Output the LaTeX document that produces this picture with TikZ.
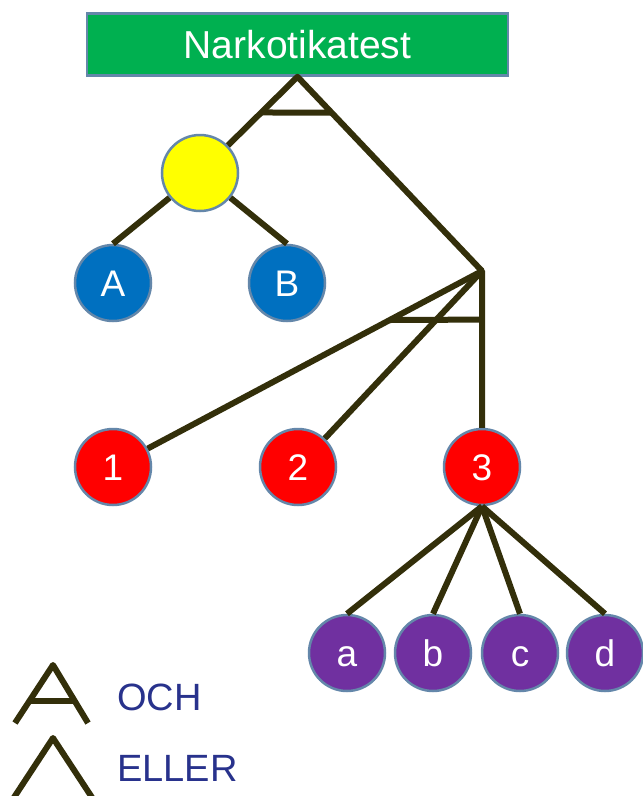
\documentclass[tikz,border=0pt]{standalone}
\usepackage{fontspec}
\setmainfont{Liberation Sans}
\usetikzlibrary{calc}
\definecolor{linec}{RGB}{51,47,10}
\definecolor{edgec}{RGB}{100,135,170}
\definecolor{greenc}{RGB}{0,176,80}
\definecolor{bluec}{RGB}{0,112,192}
\definecolor{redc}{RGB}{255,0,0}
\definecolor{purplec}{RGB}{112,48,160}
\definecolor{yellowc}{RGB}{255,255,0}
\definecolor{legc}{RGB}{40,50,140}
\begin{document}
\begin{tikzpicture}[x=1pt,y=-1pt,
  conn/.style={draw=linec,line width=6pt,line join=round},
  circ/.style={circle,draw=edgec,line width=2.5pt,minimum size=76pt,inner sep=0pt,text=white,font=\fontsize{37}{37}\selectfont,text height=26.5pt,text depth=0pt},
  legtext/.style={anchor=west,text=legc,font=\fontsize{38}{38}\selectfont,inner sep=0pt}]
\useasboundingbox (0,0) rectangle (643,796);
\clip (0,0) rectangle (643,796);
\fill[white] (0,0) rectangle (643,796);
% nodes
\node[draw=edgec,line width=2.5pt,fill=greenc,minimum width=421pt,minimum height=62pt,inner sep=0pt,text=white,font=\fontsize{39}{39}\selectfont] (T) at (297.5,44.5) {Narkotikatest};
\node[circ,fill=yellowc] (Y) at (200,173) {};
\node[circ,fill=bluec] (A) at (113,283) {A};
\node[circ,fill=bluec] (B) at (287,283) {B};
\coordinate (J) at (482,271);
\node[circ,fill=redc] (n1) at (113,467) {1};
\node[circ,fill=redc] (n2) at (298,467) {2};
\node[circ,fill=redc] (n3) at (482,467) {3};
\node[circ,fill=purplec] (a) at (347,653) {a};
\node[circ,fill=purplec] (b) at (433,653) {b};
\node[circ,fill=purplec] (c) at (520,653) {c};
\node[circ,fill=purplec] (d) at (605,653) {d};
% connectors
\draw[conn] (Y) -- (T.south) -- (J);
\draw[conn] ($(T.south)!0.371!(Y.center)$) -- ($(T.south)!0.185!(J)$);
\draw[conn] (Y) -- (A.north);
\draw[conn] (Y) -- (B.north);
\draw[conn] (n1) -- (J) -- (n3.north);
\draw[conn] (J) -- (n2);
\draw[conn] ($(J)!0.25!(n1.center)$) -- ($(J)!0.31!(n3.north)$);
\draw[conn] (n3.south) -- (a.north);
\draw[conn] (n3.south) -- (b.north);
\draw[conn] (n3.south) -- (c.north);
\draw[conn] (n3.south) -- (d.north);
% legend
\coordinate (oa) at (53,665);
\coordinate (ol) at (15,723);
\coordinate (or) at (88,723);
\draw[conn] (ol) -- (oa) -- (or);
\draw[conn] ($(oa)!0.62!(ol)$) -- ($(oa)!0.62!(or)$);
\coordinate (ea) at (53,738);
\coordinate (el) at (11,802);
\coordinate (er) at (95,802);
\draw[conn] (el) -- (ea) -- (er);
\node[legtext] (och) at (117,697) {OCH};
\node[legtext] (eller) at (117,768) {ELLER};
\end{tikzpicture}
\end{document}
